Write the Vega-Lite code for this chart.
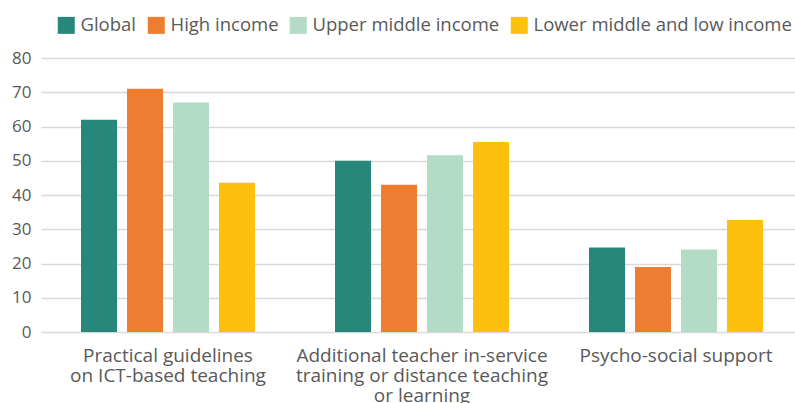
{
  "$schema": "https://vega.github.io/schema/vega-lite/v6.json",
  "autosize": {"type": "none"},
  "padding": {"left": 41, "top": 58, "right": -8, "bottom": 71},
  "width": 762,
  "height": 274,
  "config": {
    "view": {"stroke": null},
    "font": "Open Sans",
    "axis": {"labelColor": "#595959", "labelFont": "Open Sans"},
    "legend": {"labelColor": "#595959", "labelFont": "Open Sans"}
  },
  "data": {
    "values": [
      {"category": "Practical guidelines on ICT-based teaching", "group": "Global", "value": 62},
      {"category": "Practical guidelines on ICT-based teaching", "group": "High income", "value": 71},
      {"category": "Practical guidelines on ICT-based teaching", "group": "Upper middle income", "value": 67},
      {"category": "Practical guidelines on ICT-based teaching", "group": "Lower middle and low income", "value": 43.6},
      {"category": "Additional teacher in-service training or distance teaching or learning", "group": "Global", "value": 50},
      {"category": "Additional teacher in-service training or distance teaching or learning", "group": "High income", "value": 43},
      {"category": "Additional teacher in-service training or distance teaching or learning", "group": "Upper middle income", "value": 51.6},
      {"category": "Additional teacher in-service training or distance teaching or learning", "group": "Lower middle and low income", "value": 55.5},
      {"category": "Psycho-social support", "group": "Global", "value": 24.7},
      {"category": "Psycho-social support", "group": "High income", "value": 19},
      {"category": "Psycho-social support", "group": "Upper middle income", "value": 24.1},
      {"category": "Psycho-social support", "group": "Lower middle and low income", "value": 32.7}
    ]
  },
  "mark": {"type": "bar"},
  "encoding": {
    "x": {
      "field": "category",
      "type": "nominal",
      "sort": null,
      "scale": {"paddingInner": 0.315, "paddingOuter": 0.1575},
      "axis": {
        "title": null,
        "domain": false,
        "ticks": false,
        "labelAngle": 0,
        "labelFontSize": 19,
        "labelLineHeight": 20,
        "labelPadding": 14,
        "labelLimit": 0,
        "labelExpr": "datum.label == 'Practical guidelines on ICT-based teaching' ? ['Practical guidelines', 'on ICT-based teaching'] : datum.label == 'Psycho-social support' ? 'Psycho-social support' : ['Additional teacher in-service', 'training or distance teaching', 'or learning']"
      }
    },
    "xOffset": {
      "field": "group",
      "type": "nominal",
      "sort": ["Global", "High income", "Upper middle income", "Lower middle and low income"],
      "scale": {"paddingInner": 0.217, "paddingOuter": 0}
    },
    "y": {
      "field": "value",
      "type": "quantitative",
      "scale": {"domain": [0, 80], "nice": false},
      "axis": {
        "title": null,
        "domain": false,
        "ticks": false,
        "values": [0, 10, 20, 30, 40, 50, 60, 70, 80],
        "labelFontSize": 17,
        "labelPadding": 10,
        "gridColor": "#d9d9d9",
        "gridWidth": 1.6
      }
    },
    "color": {
      "field": "group",
      "type": "nominal",
      "sort": ["Global", "High income", "Upper middle income", "Lower middle and low income"],
      "scale": {
        "domain": ["Global", "High income", "Upper middle income", "Lower middle and low income"],
        "range": ["#26877a", "#ed7d31", "#b3dbc5", "#fcc00d"]
      },
      "legend": {
        "title": null,
        "orient": "none",
        "legendX": 16,
        "legendY": -42,
        "direction": "horizontal",
        "columns": 4,
        "columnPadding": 10,
        "symbolType": "square",
        "symbolSize": 289,
        "symbolStrokeWidth": 0,
        "labelFontSize": 18.5,
        "labelOffset": 5,
        "labelLimit": 0,
        "padding": 0
      }
    }
  }
}
